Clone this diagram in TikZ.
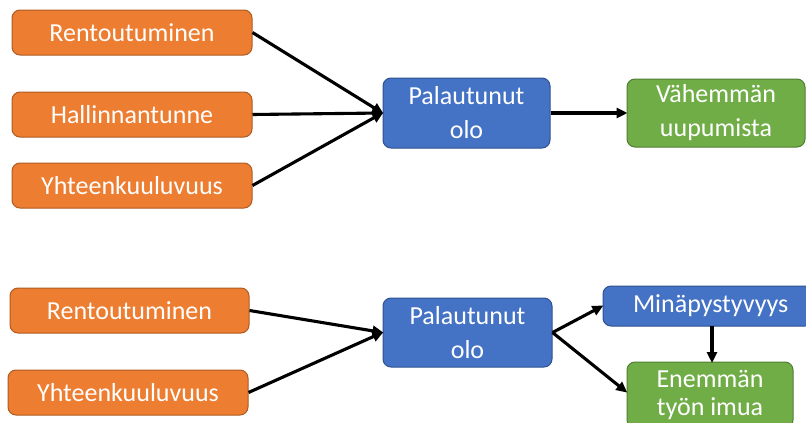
\documentclass[tikz,border=0pt]{standalone}
\usepackage{fontspec}
\setmainfont{Carlito}
\usetikzlibrary{arrows.meta}
\definecolor{orfill}{HTML}{ED7D31}
\definecolor{ordraw}{HTML}{AE5A21}
\definecolor{blfill}{HTML}{4472C4}
\definecolor{bldraw}{HTML}{2F528F}
\definecolor{grfill}{HTML}{70AD47}
\definecolor{grdraw}{HTML}{507E32}
\tikzset{
  box/.style={draw, line width=1pt, rounded corners=8pt, text=white, align=center,
    inner sep=0pt, font=\fontsize{26}{34}\selectfont},
  orbox/.style={box, fill=orfill, draw=ordraw},
  blbox/.style={box, fill=blfill, draw=bldraw},
  grbox/.style={box, fill=grfill, draw=grdraw},
  conn/.style={line width=3.1pt, -{Triangle[length=11pt,width=10pt]}, shorten >=-1pt},
}
\begin{document}
\begin{tikzpicture}[x=1pt,y=-1pt]
\useasboundingbox (0,0) rectangle (806,423);
\clip (0,0) rectangle (806,423);
% upper chain
\node[orbox, minimum width=240, minimum height=45] (r1) at (132,32.5) {Rentoutuminen};
\node[orbox, minimum width=240, minimum height=45] (h1) at (132,114.5) {Hallinnantunne};
\node[orbox, minimum width=240, minimum height=45] (y1) at (132,185.5) {Yhteenkuuluvuus};
\node[blbox, minimum width=167, minimum height=70] (p1) at (466.5,113) {Palautunut\\olo};
\node[grbox, minimum width=178, minimum height=68] (v1) at (716,113) {Vähemmän\\uupumista};
\draw[conn] (r1.east) -- (p1.west);
\draw[conn] (h1.east) -- (p1.west);
\draw[conn] (y1.east) -- (p1.west);
\draw[conn] (p1.east) -- (v1.west);
% lower chain
\node[orbox, minimum width=239, minimum height=45] (r2) at (129.5,310.5) {Rentoutuminen};
\node[orbox, minimum width=240, minimum height=45] (y2) at (128,392.5) {Yhteenkuuluvuus};
\node[blbox, minimum width=169, minimum height=69] (p2) at (467.5,332.5) {Palautunut\\olo};
\node[blbox, minimum width=210, minimum height=40, text width=200, align=left] (m2) at (708,306) {\hspace*{25pt}\raisebox{-2pt}{Minäpystyvyys}};
\node[grbox, minimum width=166, minimum height=66, font=\fontsize{26}{28}\selectfont] (e2) at (710,395) {Enemmän\\työn imua};
\coordinate (m2b) at (712,326);
\coordinate (e2t) at (712,362);
\draw[conn] (r2.east) -- (p2.west);
\draw[conn] (y2.east) -- (p2.west);
\draw[conn] (p2.east) -- (m2.west);
\draw[conn] (p2.east) -- (e2.west |- 0,392);
\draw[conn] (m2b) -- (e2t);
\end{tikzpicture}
\end{document}
